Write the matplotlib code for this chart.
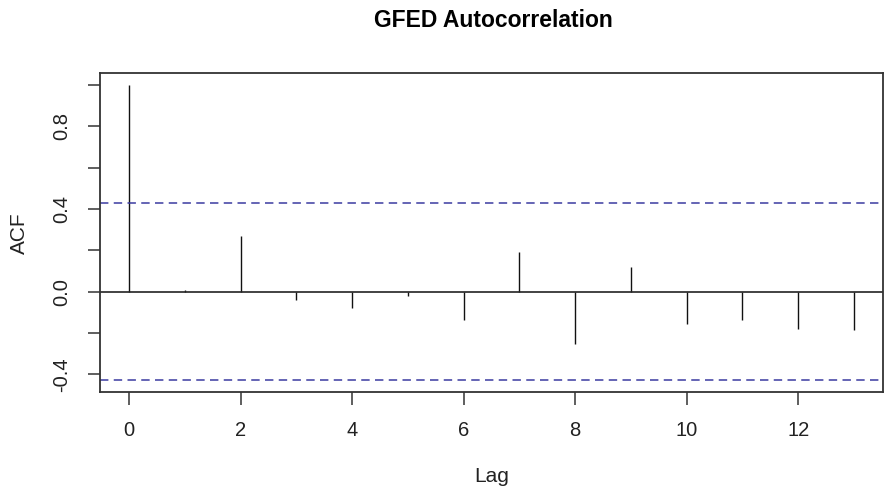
import matplotlib
matplotlib.use("Agg")
import matplotlib.pyplot as plt

# autocorrelation values
lags = list(range(14))
acf_vals = [1.0, 0.008, 0.268, -0.040, -0.077, -0.021, -0.137,
            0.191, -0.251, 0.120, -0.158, -0.138, -0.182, -0.185]
conf_limit = 0.428  # 1.96 / sqrt(n)

x_ticks = [0, 2, 4, 6, 8, 10, 12]
y_ticks = [-0.4, -0.2, 0.0, 0.2, 0.4, 0.6, 0.8, 1.0]
y_tick_labels = ["-0.4", "", "0.0", "", "0.4", "", "0.8", ""]

plt.rcParams["font.family"] = ["Liberation Sans", "DejaVu Sans"]

W, H = 885, 487
fig = plt.figure(figsize=(W / 100, H / 100), dpi=100)
ax = fig.add_axes([100 / W, 1 - 392 / H, 783 / W, 319 / H])

ax.vlines(lags, 0, acf_vals, color="#111111", linewidth=1.0)
ax.axhline(0, color="#222222", linewidth=1.2)
for y in (conf_limit, -conf_limit):
    ax.axhline(y, color="#3a3aa0", linewidth=1.1, linestyle=(0, (5.5, 3.5)))

ax.set_xlim(-0.52, 13.52)
ax.set_ylim(-0.485, 1.057)

ax.set_xticks(x_ticks)
ax.set_yticks(y_ticks)
ax.set_yticklabels(y_tick_labels, rotation=90, va="center")
ax.tick_params(axis="both", direction="out", length=9, width=1.1,
               pad=12, labelsize=14.5, color="#333333", labelcolor="#222222")

for s in ax.spines.values():
    s.set_linewidth(1.3)
    s.set_color("#333333")

# axis titles placed in figure pixels to match the R layout
fig.text(492 / W, 1 - 476 / H, "Lag", fontsize=15, color="#222222",
         ha="center", va="center")
fig.text(19 / W, 1 - 233 / H, "ACF", fontsize=15, color="#222222",
         ha="center", va="center", rotation=90)
fig.text(493 / W, 1 - 20.5 / H, "GFED Autocorrelation", fontsize=16.5,
         fontweight="bold", ha="center", va="center")

fig.savefig("out.png", dpi=100)
